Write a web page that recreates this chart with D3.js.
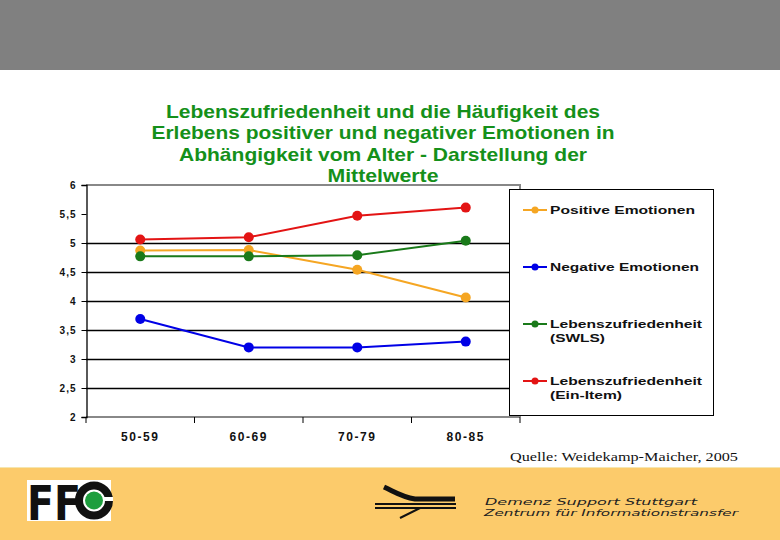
<!DOCTYPE html>
<html><head><meta charset="utf-8">
<script src="https://cdn.jsdelivr.net/npm/d3@7/dist/d3.min.js"></script>
<style>body{margin:0;background:#fff}svg{display:block}</style>
</head><body>
<script>
const categories = ["50-59", "60-69", "70-79", "80-85"];
const seriesNames = ["Positive Emotionen", "Negative Emotionen", "Lebenszufriedenheit (SWLS)", "Lebenszufriedenheit (Ein-Item)"];
const positiveValues = [4.87, 4.88, 4.54, 4.06];
const negativeValues = [3.69, 3.20, 3.20, 3.30];
const swlsValues = [4.77, 4.77, 4.79, 5.04];
const einItemValues = [5.06, 5.10, 5.47, 5.61];
const yTicks = [2, 2.5, 3, 3.5, 4, 4.5, 5, 5.5, 6];
const titleLines = ["Lebenszufriedenheit und die Häufigkeit des", "Erlebens positiver und negativer Emotionen in", "Abhängigkeit vom Alter - Darstellung der", "Mittelwerte"];
const colors = ["#f5a623", "#0000e6", "#1a7a1a", "#e31414"];

const series = [positiveValues, negativeValues, swlsValues, einItemValues].map((v, i) => ({name: seriesNames[i], values: v, color: colors[i]}));

const W = 780, H = 540;
const FONT = "Liberation Sans, Arial, sans-serif";
const svg = d3.select("body").append("svg").attr("width", W).attr("height", H);

// top banner
svg.append("rect").attr("x", 0).attr("y", 0).attr("width", W).attr("height", 70).attr("fill", "#808080");

// title
const titleWidths = [434, 463, 408, 111];
titleLines.forEach((t, i) => svg.append("text").attr("text-anchor", "middle").attr("font-family", FONT)
  .attr("font-weight", "bold").attr("font-size", 19).attr("fill", "#15901a")
  .attr("x", 383).attr("y", 117.5 + i * 21.5)
  .attr("textLength", titleWidths[i]).attr("lengthAdjust", "spacingAndGlyphs").text(t));

// scales
const x = d3.scaleBand().domain(categories).range([86, 520]);
const y = d3.scaleLinear().domain([2, 6]).range([417, 185]);

// gridlines
svg.append("g").selectAll("line").data(yTicks.filter(d => d > 2 && d < 6 && d !== 5.5)).join("line")
  .attr("x1", 86).attr("x2", 520).attr("y1", d => Math.round(y(d)) + 0.5).attr("y2", d => Math.round(y(d)) + 0.5)
  .attr("stroke", "#000").attr("stroke-width", 1.4);

// plot border (gray)
svg.append("path").attr("d", `M86,${y(6)}H520V${y(2)}`).attr("fill", "none").attr("stroke", "#888").attr("stroke-width", 2);
svg.append("line").attr("x1", 86).attr("x2", 520).attr("y1", y(2)).attr("y2", y(2)).attr("stroke", "#888").attr("stroke-width", 2);

// y axis
const yAxis = svg.append("g").attr("transform", "translate(86.5,0)")
  .call(d3.axisLeft(y).tickValues(yTicks).tickSize(5).tickFormat(d => String(d).replace(".", ",")));
yAxis.select(".domain").attr("stroke", "#000").attr("stroke-width", 1.3);
yAxis.selectAll(".tick line").attr("stroke", "#000");
yAxis.selectAll("text").attr("font-family", FONT).attr("font-weight", "bold")
  .attr("font-size", 10).attr("fill", "#111").attr("x", -10).attr("letter-spacing", 1);

// x axis
const xAxis = svg.append("g").attr("transform", `translate(0,${y(2)})`)
  .call(d3.axisBottom(x).tickSize(0).tickPadding(15));
xAxis.select(".domain").remove();
xAxis.selectAll("text").attr("font-family", FONT).attr("font-weight", "bold")
  .attr("font-size", 12).attr("fill", "#111").attr("letter-spacing", 1.6);
const xTickPos = categories.map(c => x(c)).concat([x.range()[1]]);
svg.append("g").selectAll("line").data(xTickPos).join("line")
  .attr("x1", d => d).attr("x2", d => d).attr("y1", y(2)).attr("y2", y(2) + 6).attr("stroke", "#000");

// lines
const line = d3.line().x((d, i) => x(categories[i]) + x.bandwidth() / 2).y(d => y(d));
series.forEach(s => {
  svg.append("path").datum(s.values).attr("d", line).attr("fill", "none").attr("stroke", s.color).attr("stroke-width", 2);
  svg.append("g").selectAll("circle").data(s.values).join("circle")
    .attr("cx", (d, i) => x(categories[i]) + x.bandwidth() / 2).attr("cy", d => y(d)).attr("r", 5)
    .attr("fill", s.color);
});

// legend
svg.append("rect").attr("x", 509.5).attr("y", 189.5).attr("width", 204).attr("height", 226)
  .attr("fill", "#fff").attr("stroke", "#000").attr("stroke-width", 1);
const legendY = [210, 267, 324, 381];
const legendLabels = [["Positive Emotionen"], ["Negative Emotionen"], ["Lebenszufriedenheit", "(SWLS)"], ["Lebenszufriedenheit", "(Ein-Item)"]];
const legendWidths = [[145], [149], [152, 55], [152, 72]];
series.forEach((s, i) => {
  const g = svg.append("g").attr("transform", `translate(0,${legendY[i]})`);
  g.append("line").attr("x1", 523).attr("x2", 547).attr("y1", 0).attr("y2", 0).attr("stroke", s.color).attr("stroke-width", 2);
  g.append("circle").attr("cx", 535).attr("cy", 0).attr("r", 3.5).attr("fill", s.color);
  legendLabels[i].forEach((l, j) => g.append("text").attr("font-family", FONT).attr("font-weight", "bold")
    .attr("font-size", 11.5).attr("fill", "#111").attr("x", 550).attr("y", 4 + j * 14)
    .attr("textLength", legendWidths[i][j]).attr("lengthAdjust", "spacingAndGlyphs").text(l));
});

// source
svg.append("text").attr("x", 510).attr("y", 461).attr("font-family", "Liberation Serif, Times New Roman, serif")
  .attr("font-size", 13).attr("fill", "#111").attr("textLength", 228).attr("lengthAdjust", "spacingAndGlyphs")
  .text("Quelle: Weidekamp-Maicher, 2005");

// footer
svg.append("rect").attr("x", 0).attr("y", 467).attr("width", W).attr("height", 1).attr("fill", "#f5e6b0");
svg.append("rect").attr("x", 0).attr("y", 468).attr("width", W).attr("height", 72).attr("fill", "#fccb6b");
// FfG logo
svg.append("rect").attr("x", 27).attr("y", 480).attr("width", 84).attr("height", 41).attr("fill", "#fff");
svg.append("text").attr("x", 27).attr("y", 520).attr("font-family", "DejaVu Sans, sans-serif").attr("font-weight", "bold")
  .attr("font-size", 48).attr("textLength", 54).attr("lengthAdjust", "spacingAndGlyphs").attr("fill", "#111").text("FF");
svg.append("circle").attr("cx", 94).attr("cy", 500.5).attr("r", 15).attr("fill", "none").attr("stroke", "#111").attr("stroke-width", 8);
svg.append("rect").attr("x", 101).attr("y", 497).attr("width", 12).attr("height", 4).attr("fill", "#fff");
svg.append("circle").attr("cx", 94).attr("cy", 500.5).attr("r", 9).attr("fill", "#1e9e3e");
// DeSS symbol
svg.append("path").attr("d", "M384,487 C395,492 402,497 415,499 L455,499").attr("fill", "none").attr("stroke", "#111").attr("stroke-width", 5);
svg.append("line").attr("x1", 375).attr("x2", 456).attr("y1", 504).attr("y2", 504).attr("stroke", "#111").attr("stroke-width", 2);
svg.append("line").attr("x1", 375).attr("x2", 456).attr("y1", 508).attr("y2", 508).attr("stroke", "#111").attr("stroke-width", 2);
svg.append("path").attr("d", "M400,518 L420,508 L440,508").attr("fill", "none").attr("stroke", "#111").attr("stroke-width", 2);
svg.append("text").attr("font-family", "DejaVu Sans, sans-serif").attr("font-style", "italic")
  .attr("font-size", 9).attr("fill", "#222").attr("x", 485).attr("y", 505)
  .attr("textLength", 212).attr("lengthAdjust", "spacingAndGlyphs").text("Demenz Support Stuttgart");
svg.append("text").attr("font-family", "DejaVu Sans, sans-serif").attr("font-style", "italic")
  .attr("font-size", 9).attr("fill", "#222").attr("x", 484).attr("y", 516)
  .attr("textLength", 254).attr("lengthAdjust", "spacingAndGlyphs").text("Zentrum für Informationstransfer");
</script>
</body></html>
